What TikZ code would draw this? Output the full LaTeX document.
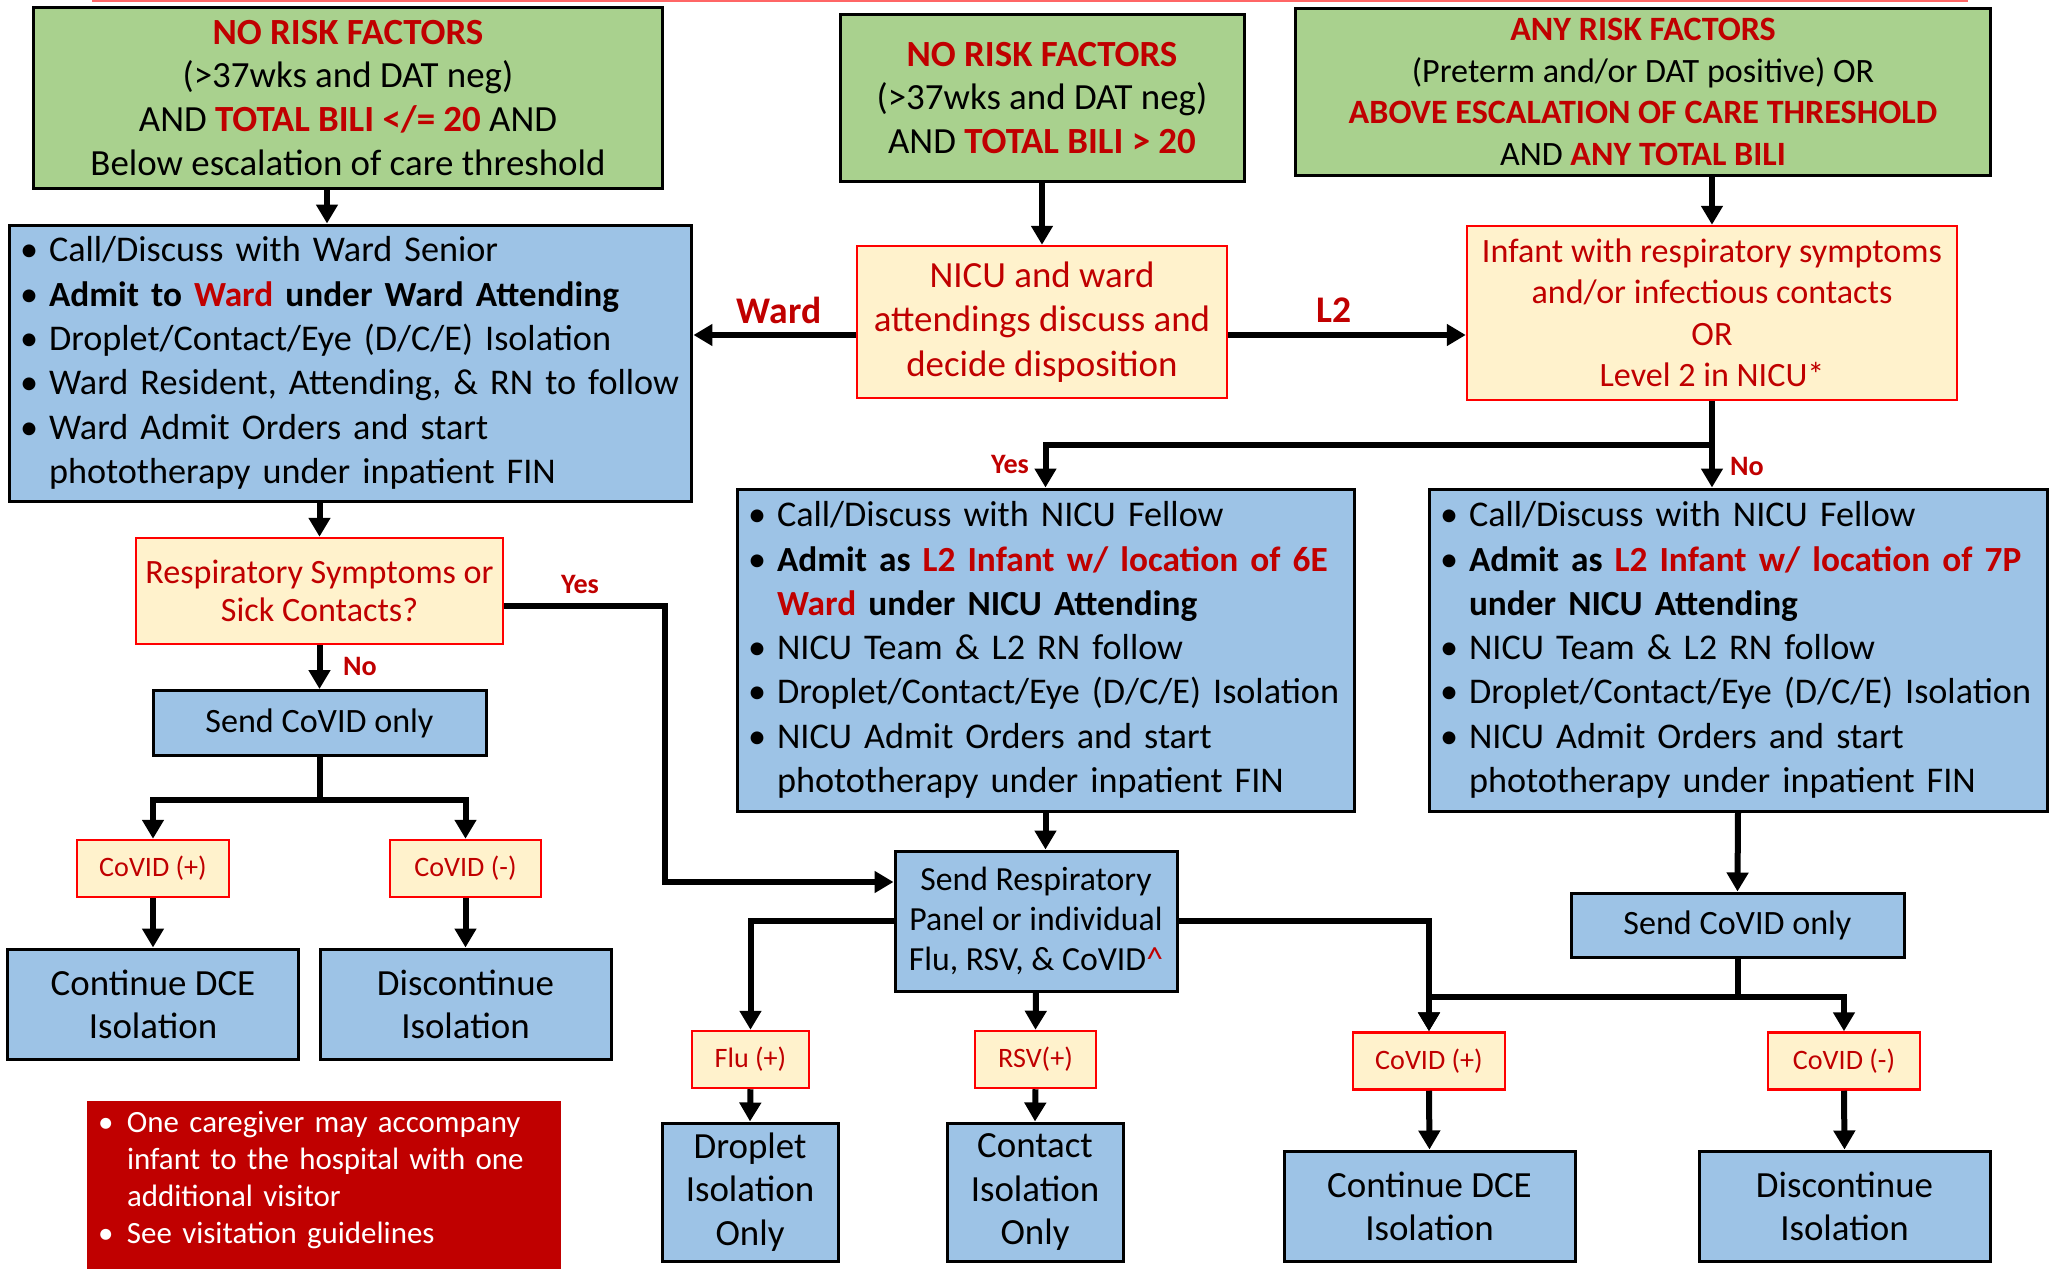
\documentclass[tikz,border=0pt]{standalone}
\usepackage{fontspec}
\setmainfont{Carlito}
\usetikzlibrary{arrows.meta}
\definecolor{cgreen}{HTML}{A9D18E}
\definecolor{cblue}{HTML}{9DC3E6}
\definecolor{cyel}{HTML}{FFF2CC}
\definecolor{cdred}{HTML}{C00000}
\definecolor{cbrd}{HTML}{FF0000}
\definecolor{ctop}{HTML}{FF6666}
\newcommand{\myfs}[2]{\fontsize{#1}{#2}\selectfont}
\newcommand{\bul}{\makebox[2.4mm][l]{\hspace*{-0.5mm}\textbullet}}
\newcommand{\ind}{\hspace*{2.4mm}}
\newcommand{\li}[1]{\mbox{\bul #1}}
\newcommand{\lc}[1]{\mbox{\ind #1}}
\newcommand{\bfl}{\bfseries\fontsize{10.05}{12.6}\selectfont}
\newcommand{\redbf}[1]{\textcolor{cdred}{\bfseries #1}}
\tikzset{
  gbox/.style={draw=black, fill=cgreen, line width=0.3mm, align=center, inner sep=0pt},
  bbox/.style={draw=black, fill=cblue, line width=0.3mm, align=center, inner sep=0pt},
  ybox/.style={draw=cbrd, fill=cyel, line width=0.25mm, align=center, inner sep=0pt, text=cdred},
  lbox/.style={draw=black, fill=cblue, line width=0.3mm, align=left, inner ysep=0pt, inner xsep=1.6mm},
  arr/.style={line width=0.6mm, -{Triangle[length=1.9mm,width=2.1mm]}},
  conn/.style={line width=0.6mm},
  lab/.style={text=cdred, font=\bfseries\myfs{10.7}{12}},
  yn/.style={text=cdred, font=\bfseries\myfs{8}{9.6}},
}
\begin{document}
\begin{tikzpicture}[x=0.1mm,y=-0.1mm]
\useasboundingbox (0,0) rectangle (2049,1269);
\draw[line width=0.2mm, ctop] (92,1) -- (1968,1);

% top green boxes
\node[gbox, minimum width=63mm, minimum height=18.1mm, font=\myfs{10.5}{12.5}] (G1) at (348,98)
 {\redbf{NO RISK FACTORS}\\(>37wks and DAT neg)\\AND \redbf{TOTAL BILI </= 20} AND\\Below escalation of care threshold};
\node[gbox, minimum width=40.4mm, minimum height=16.8mm, font=\myfs{10.5}{12.5}] (G2) at (1042,98)
 {\redbf{NO RISK FACTORS}\\(>37wks and DAT neg)\\AND \redbf{TOTAL BILI > 20}};
\node[gbox, minimum width=69.5mm, minimum height=16.7mm, font=\myfs{9.7}{11.8}] (G3) at (1643,92)
 {\redbf{ANY RISK FACTORS}\\(Preterm and/or DAT positive) OR\\\redbf{ABOVE ESCALATION OF CARE THRESHOLD}\\AND \redbf{ANY TOTAL BILI}};

% ward box
\node[lbox, minimum width=68.3mm, minimum height=27.6mm, text width=65.1mm, font=\myfs{10.3}{12.6}] (B1) at (350.5,363)
 {\li{Call/Discuss with Ward Senior}\\
  \li{\bfl Admit to \textcolor{cdred}{Ward} under Ward Attending}\\
  \li{Droplet/Contact/Eye (D/C/E) Isolation}\\
  \li{Ward Resident, Attending, \& RN to follow}\\
  \li{Ward Admit Orders and start}\\
  \lc{phototherapy under inpatient FIN}};

% yellow decision boxes
\node[ybox, minimum width=37mm, minimum height=15.2mm, font=\myfs{10.5}{12.7}] (Y1) at (1042,322)
 {NICU and ward\\attendings discuss and\\decide disposition};
\node[ybox, minimum width=49mm, minimum height=17.4mm, font=\myfs{9.7}{11.8}] (Y2) at (1712,313)
 {Infant with respiratory symptoms\\and/or infectious contacts\\OR\\Level 2 in NICU*};

% NICU boxes
\node[lbox, minimum width=61.7mm, minimum height=32.2mm, text width=58.5mm, font=\myfs{10.3}{12.6}] (B2) at (1045.5,650)
 {\li{Call/Discuss with NICU Fellow}\\
  \li{\bfl Admit as \textcolor{cdred}{L2 Infant w/ location of 6E}}\\
  \lc{\bfl\textcolor{cdred}{Ward} under NICU Attending}\\
  \li{NICU Team \& L2 RN follow}\\
  \li{Droplet/Contact/Eye (D/C/E) Isolation}\\
  \li{NICU Admit Orders and start}\\
  \lc{phototherapy under inpatient FIN}};
\node[lbox, minimum width=61.8mm, minimum height=32.2mm, text width=58.6mm, font=\myfs{10.3}{12.6}] (B3) at (1738,650)
 {\li{Call/Discuss with NICU Fellow}\\
  \li{\bfl Admit as \textcolor{cdred}{L2 Infant w/ location of 7P}}\\
  \lc{\bfl under NICU Attending}\\
  \li{NICU Team \& L2 RN follow}\\
  \li{Droplet/Contact/Eye (D/C/E) Isolation}\\
  \li{NICU Admit Orders and start}\\
  \lc{phototherapy under inpatient FIN}};

% left column
\node[ybox, minimum width=36.7mm, minimum height=10.6mm, font=\myfs{9.7}{11}] (Y3) at (319.5,591)
 {Respiratory Symptoms or\\Sick Contacts?};
\node[bbox, minimum width=33.3mm, minimum height=6.5mm, font=\myfs{9.7}{11.5}] (B4) at (319.5,723) {Send CoVID only};
\node[ybox, minimum width=15.2mm, minimum height=5.7mm, font=\myfs{8}{9.6}] (Y4) at (153,868.5) {CoVID (+)};
\node[ybox, minimum width=15.1mm, minimum height=5.7mm, font=\myfs{8}{9.6}] (Y5) at (465.5,868.5) {CoVID (-)};
\node[bbox, minimum width=29.2mm, minimum height=11mm, font=\myfs{10.5}{12.3}] (B5) at (153,1004) {Continue DCE\\Isolation};
\node[bbox, minimum width=29.1mm, minimum height=11mm, font=\myfs{10.5}{12.3}] (B6) at (465.5,1004) {Discontinue\\Isolation};

% middle bottom
\node[bbox, minimum width=28.2mm, minimum height=14mm, font=\myfs{9.6}{11.5}] (B7) at (1036,921)
 {Send Respiratory\\Panel or individual\\Flu, RSV, \& CoVID\textcolor{cdred}{\^{}}};
\node[ybox, minimum width=11.7mm, minimum height=5.7mm, font=\myfs{8}{9.6}] (Y6) at (750.5,1059.5) {Flu (+)};
\node[ybox, minimum width=12.1mm, minimum height=5.7mm, font=\myfs{8}{9.6}] (Y7) at (1035.5,1059.5) {RSV(+)};
\node[bbox, minimum width=17.6mm, minimum height=13.8mm, font=\myfs{10.5}{12.3}] (B8) at (750,1192) {Droplet\\Isolation\\Only};
\node[bbox, minimum width=17.6mm, minimum height=13.8mm, font=\myfs{10.5}{12.3}] (B9) at (1035,1192) {Contact\\Isolation\\Only};

% right bottom
\node[bbox, minimum width=33.3mm, minimum height=6.4mm, font=\myfs{9.7}{11.5}] (B10) at (1737.5,925) {Send CoVID only};
\node[ybox, minimum width=15.2mm, minimum height=5.7mm, font=\myfs{8}{9.6}] (Y8) at (1429,1061) {CoVID (+)};
\node[ybox, minimum width=15.2mm, minimum height=5.7mm, font=\myfs{8}{9.6}] (Y9) at (1844,1061) {CoVID (-)};
\node[bbox, minimum width=29.1mm, minimum height=11mm, font=\myfs{10.5}{12.3}] (B11) at (1429.5,1206) {Continue DCE\\Isolation};
\node[bbox, minimum width=29.1mm, minimum height=11mm, font=\myfs{10.5}{12.3}] (B12) at (1844.5,1206) {Discontinue\\Isolation};

% note box
\fill[cdred] (87,1101) rectangle (561,1269);
\node[text=white, align=left, inner sep=0pt, text width=44.2mm, font=\myfs{8.8}{10.6}] (R1) at (324,1180)
 {\li{One caregiver may accompany}\\
  \lc{infant to the hospital with one}\\
  \lc{additional visitor}\\
  \li{See visitation guidelines}};

% labels
\node[lab] (lward) at (779,310) {Ward};
\node[lab] (ll2) at (1334,310) {L2};
\node[yn] (lyes1) at (1010,464) {Yes};
\node[yn] (lno1) at (1747,466) {No};
\node[yn] (lyes2) at (580,584) {Yes};
\node[yn] (lno2) at (360,666) {No};

% connectors
\draw[arr] ([xshift=-2.1mm]G1.south) -- ([xshift=-2.1mm]G1.south |- B1.north);
\draw[arr] (G2.south) -- (Y1.north);
\draw[arr] (Y2.north |- G3.south) -- (Y2.north);
\draw[arr] ([yshift=-1.3mm]Y1.west) -- ([yshift=-1.3mm]Y1.west -| B1.east);
\draw[arr] ([yshift=-1.3mm]Y1.east) -- ([yshift=-1.3mm]Y1.east -| Y2.west);
\draw[arr] (Y2.south) -- (Y2.south |- B3.north);
\draw[arr] (Y2.south) -- ([yshift=-4.4mm]Y2.south) -| (B2.north);
\draw[arr] (Y3.north |- B1.south) -- (Y3.north);
\draw[arr] (Y3.south) -- (B4.north);
\draw[arr] ([yshift=-1.5mm]Y3.east) -- ++(161,0) |- ([yshift=3.9mm]B7.west);
\draw[conn] (B4.south) -- ++(0,43) coordinate (s1);
\draw[arr] (s1) -| (Y4.north);
\draw[arr] (s1) -| (Y5.north);
\draw[arr] (Y4.south) -- (B5.north);
\draw[arr] (Y5.south) -- (B6.north);
\draw[arr] (B2.south) -- (B2.south |- B7.north);
\draw[arr] (B7.west) -| (Y6.north);
\draw[arr] (B7.south) -- (Y7.north);
\draw[arr] (B7.east) -| (Y8.north);
\draw[arr] (Y6.south) -- (B8.north);
\draw[arr] (Y7.south) -- (B9.north);
\draw[arr] (B3.south) -- (B10.north);
\draw[conn] (B10.south) -- ++(0,38) coordinate (s2);
\draw[arr] (s2) -| (Y8.north);
\draw[arr] (s2) -| (Y9.north);
\draw[arr] (Y8.south) -- (B11.north);
\draw[arr] (Y9.south) -- (B12.north);
\end{tikzpicture}
\end{document}
